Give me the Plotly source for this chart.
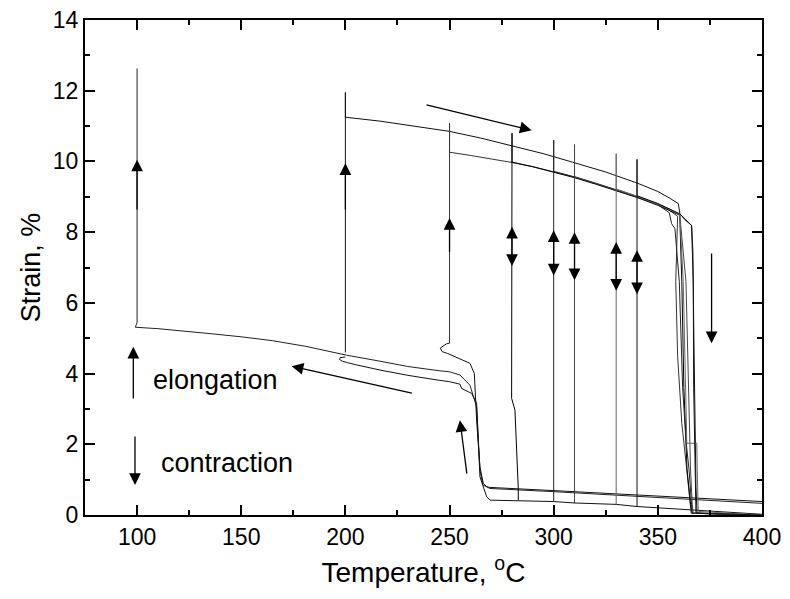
import plotly.graph_objects as go

# ---------------- data ----------------
# loading at 100 C, then cooling curve / upper branch
run100_x = [100, 100, 99.6, 99.2, 110, 120, 135, 150, 165, 181, 190, 197, 200.6, 216.6, 230, 245, 250, 255, 259.8, 263, 264.6, 266, 269.4, 300, 340, 400]
run100_y = [12.63, 5.45, 5.38, 5.31, 5.27, 5.22, 5.13, 5.04, 4.93, 4.77, 4.66, 4.57, 4.52, 4.35, 4.2, 4.08, 4.05, 3.96, 3.67, 3.06, 1.27, 0.85, 0.75, 0.66, 0.53, 0.33]

# lower branch with small loop near 200 C, ending on the bottom line
loop_x = [200, 197.5, 197.2, 198.5, 201, 205, 216.6, 230, 245, 250, 255, 255.8, 260.6, 263, 264.6, 267.8, 269.4, 300, 310, 330, 340, 367, 400]
loop_y = [4.47, 4.45, 4.4, 4.35, 4.31, 4.25, 4.1, 3.95, 3.81, 3.77, 3.7, 3.58, 3.44, 3.16, 1.08, 0.52, 0.42, 0.38, 0.34, 0.3, 0.24, 0.14, 0.02]

# loading at 200 C and heating along the upper curve
run200_x = [200, 200, 200, 216.6, 230, 250, 265, 280, 295, 309, 325, 340, 350, 356, 359.8, 360.6, 363, 366.2, 366.8, 367.3, 367.8, 368.3, 368.8, 400]
run200_y = [4.6, 11.95, 11.25, 11.14, 11.02, 10.85, 10.66, 10.45, 10.22, 9.98, 9.7, 9.39, 9.15, 8.95, 8.81, 8.52, 8.35, 8.19, 7.5, 5.0, 2.5, 0.8, 0.06, 0.0]

# loading at 250 C and heating
run250_x = [250, 250, 250, 260, 270, 280, 290, 300, 310, 320, 330, 340, 350, 355, 359.5, 358.6, 359.5, 361.5, 363.5, 365.5, 366, 400]
run250_y = [4.86, 11.08, 10.26, 10.17, 10.08, 9.97, 9.85, 9.71, 9.56, 9.38, 9.2, 9.0, 8.78, 8.64, 8.45, 6.6, 4.5, 2.59, 1.5, 0.3, 0.05, 0.0]

# curve below the 250 C loading point
sq250_x = [250, 248.5, 245.5, 246.5, 249, 254.2, 259.8, 261.9, 263, 264.6, 266.2, 267.8, 269.4, 300, 340, 367, 400]
sq250_y = [4.86, 4.84, 4.72, 4.62, 4.57, 4.43, 4.29, 4.0, 2.68, 1.36, 0.9, 0.8, 0.78, 0.69, 0.57, 0.49, 0.38]

run280_x = [283, 283, 281.4, 279.8, 280, 280, 290, 300, 310, 320, 330, 340, 350, 355, 358, 360.5, 361.5, 362.5, 364, 365.7, 366.5, 400]
run280_y = [0.42, 0.75, 2.97, 3.3, 10.8, 9.98, 9.85, 9.7, 9.54, 9.36, 9.18, 8.98, 8.76, 8.62, 8.55, 8.48, 6.6, 3.6, 1.3, 0.3, 0.05, 0.0]

run300_x = [300, 300, 300, 310, 320, 330, 340, 350, 355.5, 356.6, 358.2, 360.3, 361.9, 363.5, 365.0, 366, 366.5, 400]
run300_y = [0.38, 10.6, 9.72, 9.56, 9.38, 9.19, 8.99, 8.77, 8.55, 8.24, 8.1, 6.6, 3.6, 2.1, 1.27, 0.3, 0.05, 0.0]

run310_x = [310, 310, 310, 320, 330, 340, 350, 355, 360.5, 363.5, 364.6, 365.7, 366.5, 367, 400]
run310_y = [0.33, 10.48, 9.57, 9.39, 9.21, 9.01, 8.8, 8.66, 8.5, 6.6, 3.6, 1.27, 0.3, 0.05, 0.0]

run330_x = [330, 330, 330, 340, 350, 355, 360.5, 362.2, 363.9, 368.7, 368.9, 369.4, 400]
run330_y = [0.3, 10.22, 9.22, 9.02, 8.8, 8.67, 8.5, 6.6, 2.03, 2.03, 1.27, 0.1, 0.0]

run340_x = [340, 340, 340, 350, 355, 360.5, 366.2, 367, 367.2, 367.8, 368.3, 400]
run340_y = [0.24, 10.06, 9.03, 8.81, 8.68, 8.52, 8.19, 6.6, 3.6, 1.27, 0.05, 0.0]

# arrows: (tip x, tip y, tail x, tail y, double headed)
arrow_tip_x = [100, 200, 250, 280, 300, 310, 330, 340, 375.8, 98.2, 99, 289.4, 174.2, 255]
arrow_tip_y = [10.05, 9.95, 8.4, 8.15, 8.05, 8.0, 7.72, 7.49, 4.86, 4.76, 0.85, 10.88, 4.21, 2.68]
arrow_tail_x = [100, 200, 250, 280, 300, 310, 330, 340, 375.8, 98.2, 99, 238.2, 232.6, 258.4]
arrow_tail_y = [8.6, 8.6, 7.4, 7.0, 6.73, 6.6, 6.3, 6.2, 7.44, 3.25, 2.26, 11.61, 3.44, 1.13]
arrow_double = [False, False, False, True, True, True, True, True, False, False, False, False, False, False]

label_texts = ["elongation", "contraction"]
label_x = [106.5, 110.5]
label_y = [3.81, 1.46]

x_title = "Temperature, <sup>o</sup>C"
y_title = "Strain, %"

# ---------------- figure ----------------
FONT = "Liberation Sans, Arial, sans-serif"
fig = go.Figure()

series = [
    (run100_x, run100_y, "#222222"),
    (loop_x, loop_y, "#111111"),
    (run200_x, run200_y, "#111111"),
    (run250_x, run250_y, "#333333"),
    (sq250_x, sq250_y, "#111111"),
    (run280_x, run280_y, "#000000"),
    (run300_x, run300_y, "#222222"),
    (run310_x, run310_y, "#444444"),
    (run330_x, run330_y, "#666666"),
    (run340_x, run340_y, "#111111"),
]
for xs, ys, col in series:
    fig.add_trace(go.Scatter(x=xs, y=ys, mode="lines",
                             line=dict(color=col, width=1),
                             showlegend=False, hoverinfo="skip"))

for tx, ty, sx, sy, dbl in zip(arrow_tip_x, arrow_tip_y, arrow_tail_x, arrow_tail_y, arrow_double):
    fig.add_annotation(x=tx, y=ty, ax=sx, ay=sy, xref="x", yref="y",
                       axref="x", ayref="y", text="", showarrow=True,
                       arrowhead=2, startarrowhead=2, arrowsize=1.8, startarrowsize=1.8,
                       arrowwidth=1.3, arrowcolor="black",
                       arrowside="end+start" if dbl else "end",
                       standoff=0, startstandoff=0)

for t, lx, ly in zip(label_texts, label_x, label_y):
    fig.add_annotation(x=lx, y=ly, xref="x", yref="y", text=t, showarrow=False,
                       xanchor="left", yanchor="middle",
                       font=dict(family=FONT, size=27, color="black"))

axis_common = dict(showline=True, linewidth=2, linecolor="black", mirror="allticks",
                   ticks="inside", ticklen=10, tickwidth=2, tickcolor="black",
                   showgrid=False, zeroline=False, automargin=False,
                   ticklabeloverflow="allow",
                   tickfont=dict(family=FONT, size=23, color="black"))

fig.update_xaxes(range=[75, 400], tick0=0, dtick=50,
                 minor=dict(ticks="inside", ticklen=5, tickwidth=2, tickcolor="black", dtick=25, tick0=0),
                 title=dict(text=x_title, font=dict(family=FONT, size=28, color="black"), standoff=14),
                 **axis_common)
fig.update_yaxes(range=[0, 14], tick0=0, dtick=2,
                 minor=dict(ticks="inside", ticklen=5, tickwidth=2, tickcolor="black", dtick=1, tick0=0),
                 title=dict(text=y_title, font=dict(family=FONT, size=27, color="black"), standoff=4),
                 **axis_common)

# the page body adds an 8 px offset, so the figure is 8 px smaller than the window
fig.update_layout(width=782, height=591, margin=dict(l=77, r=28, t=12, b=84),
                  plot_bgcolor="white", paper_bgcolor="white",
                  font=dict(family=FONT, color="black"))

fig.write_html("out.html")
